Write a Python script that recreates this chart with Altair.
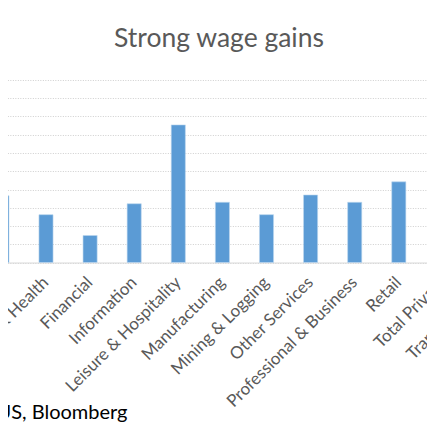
import altair as alt
import pandas as pd

categories = ["Construction", "Education & Health", "Financial", "Information",
              "Leisure & Hospitality", "Manufacturing", "Mining & Logging",
              "Other Services", "Professional & Business", "Retail",
              "Total Private", "Transportation"]
values = [1.83, 1.31, 0.74, 1.61, 3.77, 1.65, 1.31, 1.85, 1.65, 2.21, 1.9, 1.6]
grid_values = [0, 0.5, 1, 1.5, 2, 2.5, 3, 3.5, 4, 4.5, 5]

title_text = "Strong wage gains"
source_text = "Source: BLS, US, Bloomberg"

df = pd.DataFrame({"sector": categories, "gain": values})

FONT = "Lato"
GREY = "#595959"

chart = alt.Chart(df).mark_bar(color="#5B9BD5", stroke="#BDD7EE", strokeWidth=0.6).encode(
    x=alt.X("sector:N", sort=categories,
            scale=alt.Scale(range=[-28.15, 501.05], paddingInner=0.68, paddingOuter=0.34),
            axis=alt.Axis(title=source_text, labelAngle=315, labelAlign="right",
                          labelBaseline="middle", labelPadding=17, ticks=False,
                          labelOverlap=False, labelLimit=0, labelBound=False,
                          labelFont=FONT, labelFontSize=17, labelColor=GREY,
                          domainColor="#D9D9D9", domainWidth=1.2,
                          titleFont=FONT, titleFontSize=20, titleColor="#000000",
                          titleFontWeight="normal", titleAlign="right", titleAnchor="start",
                          titleBaseline="alphabetic", titleX=119, titleY=156, titleAngle=0)),
    y=alt.Y("gain:Q", scale=alt.Scale(domain=[0, 5], nice=False),
            axis=alt.Axis(values=grid_values, labels=False, ticks=False, domain=False,
                          title=None, grid=True, gridColor="#CFCFCF", gridDash=[1, 1.5],
                          gridWidth=1)),
).properties(
    width=419, height=182.5,
    title=alt.TitleParams(title_text, font=FONT, fontSize=26.5, color=GREY,
                          fontWeight="normal", anchor="middle", dx=1.5,
                          baseline="alphabetic", offset=7),
    autosize=alt.AutoSizeParams(type="none"),
    padding={"left": 0, "right": 0, "top": 72, "bottom": 164.5},
    background="white",
).configure_view(stroke=None)

chart.save("out.html", embed_options={"renderer": "svg", "actions": False})
